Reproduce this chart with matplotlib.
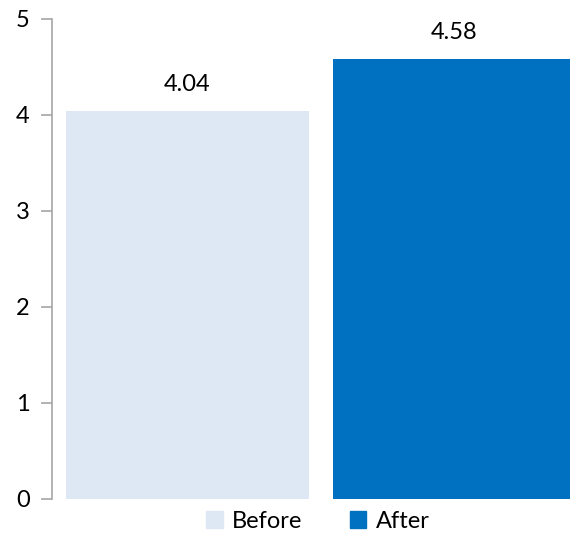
import matplotlib.pyplot as plt
from matplotlib.patches import Patch

plt.rcParams['font.family'] = ['Lato', 'DejaVu Sans']

# data
categories = ["Before", "After"]
values = [4.04, 4.58]
colors = ["#DEE8F4", "#0070C0"]

fig = plt.figure(figsize=(5.7, 5.33), dpi=100)
ax = fig.add_axes([0.0912, 0.0638, 0.9088, 0.9006])

x = list(range(len(categories)))
bars = ax.bar(x, values, width=0.91, color=colors)

# value labels above bars
for xi, v in zip(x, values):
    ax.text(xi, v + 0.17, f"{v:.2f}", ha="center", va="bottom", fontsize=17)

ax.set_ylim(0, 5)
ax.set_yticks(range(6))
ax.set_xlim(-0.507, 1.433)
ax.set_xticks([])

for s in ["top", "right", "bottom"]:
    ax.spines[s].set_visible(False)
ax.spines["left"].set_color("#A6A6A6")
ax.spines["left"].set_linewidth(1.2)
ax.tick_params(axis="y", length=8, width=1.2, color="#A6A6A6", labelsize=17, pad=8)

handles = [Patch(color=c, label=l) for c, l in zip(colors, categories)]
fig.legend(handles=handles, loc="center", bbox_to_anchor=(0.558, 0.022), ncol=2,
           frameon=False, fontsize=17, handlelength=0.7, handleheight=0.7,
           handletextpad=0.4, columnspacing=2.0)

fig.savefig("out.png", dpi=100)
